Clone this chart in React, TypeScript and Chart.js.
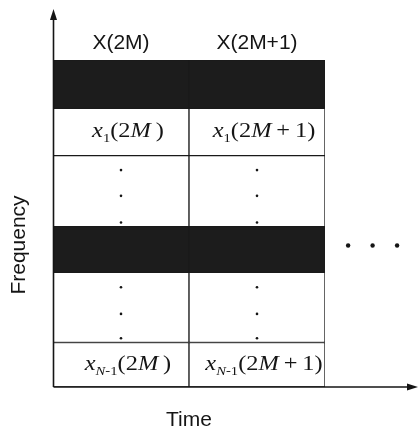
import { useEffect, useRef } from 'react';
import { Chart, registerables } from 'chart.js';

Chart.register(...registerables);

// Time slots (columns), placed at x = 0, 1
const timeSlots = ['X(2M)', 'X(2M+1)'];
const slotPositions = [0, 1];
// Frequency bands, bottom -> top (relative heights)
const bandHeights = [0.95, 1.5, 0.97, 1.52, 1.01, 1.03];
const bandShaded = [false, false, true, false, false, true];
// vertical "..." marks inside the gap rows
const dotLevels = [4.63, 4.08, 3.51, 2.13, 1.56, 1.04];
// horizontal "..." to the right of the grid
const ellipsisX = [1.67, 1.85, 2.03];
const ellipsisY = 3.02;
// cell labels x_k(t)
const labelledBands = [4, 0];
const rowSymbolParts: [string, string][][] = [
  [['x', 'i'], ['1', 'sr']],
  [['x', 'i'], ['N', 'si'], ['-1', 'sr']],
];
const colArgParts: [string, string][][] = [
  [['(2', 'r'], ['M', 'i'], ['\u2009)', 'r']],
  [['(2', 'r'], ['M', 'i'], ['\u2009+\u20091)', 'r']],
];
const yTitle = 'Frequency';
const xTitle = 'Time';

const SANS = '"Liberation Sans", Arial, sans-serif';
const SERIF = '"Liberation Serif", "Times New Roman", serif';
const INK = '#151515';

function drawRich(ctx: CanvasRenderingContext2D, parts: [string, string][], cx: number, cy: number, size: number, stretch: number) {
  const fontFor = (st: string) => {
    const sub = st.startsWith('s');
    const it = st.endsWith('i');
    return `${it ? 'italic ' : ''}${sub ? Math.round(size * 0.62) : size}px ${SERIF}`;
  };
  let total = 0;
  const widths = parts.map(([t, st]) => {
    ctx.font = fontFor(st);
    const w = ctx.measureText(t).width;
    total += w;
    return w;
  });
  ctx.save();
  ctx.translate(cx, cy);
  ctx.scale(stretch, 1);
  ctx.textAlign = 'left';
  ctx.textBaseline = 'alphabetic';
  let x = -total / 2;
  parts.forEach(([t, st], i) => {
    ctx.font = fontFor(st);
    ctx.fillText(t, x, st.startsWith('s') ? size * 0.22 : 0);
    x += widths[i];
  });
  ctx.restore();
}

const extras = {
  id: 'diagramExtras',
  afterDraw(chart: any) {
    const { ctx, chartArea: ca, scales } = chart;
    const xs = scales.x;
    const y = scales.y;
    ctx.save();
    ctx.strokeStyle = INK;
    ctx.fillStyle = INK;
    ctx.lineWidth = 1.6;
    const ax = ca.left + 0.5;
    const ay = ca.bottom;
    const yTip = ca.top - 51;
    const xTip = ca.right + 93;
    // vertical axis with arrow
    ctx.beginPath();
    ctx.moveTo(ax, ay);
    ctx.lineTo(ax, yTip + 8);
    ctx.stroke();
    ctx.beginPath();
    ctx.moveTo(ax, yTip);
    ctx.lineTo(ax - 3.5, yTip + 11);
    ctx.lineTo(ax + 3.5, yTip + 11);
    ctx.closePath();
    ctx.fill();
    // horizontal axis with arrow
    ctx.beginPath();
    ctx.moveTo(ax, ay);
    ctx.lineTo(xTip - 8, ay);
    ctx.stroke();
    ctx.beginPath();
    ctx.moveTo(xTip, ay);
    ctx.lineTo(xTip - 11, ay - 3.5);
    ctx.lineTo(xTip - 11, ay + 3.5);
    ctx.closePath();
    ctx.fill();

    // horizontal ellipsis beyond the grid (positioned through the scales)
    ellipsisX.forEach((v) => {
      ctx.beginPath();
      ctx.arc(xs.getPixelForValue(v), y.getPixelForValue(ellipsisY), 2.2, 0, Math.PI * 2);
      ctx.fill();
    });

    // Frequency title
    ctx.save();
    ctx.translate(ca.left - 34, ca.bottom - 142);
    ctx.rotate(-Math.PI / 2);
    ctx.font = `21px ${SANS}`;
    ctx.textAlign = 'center';
    ctx.textBaseline = 'middle';
    ctx.fillText(yTitle, 0, 0);
    ctx.restore();

    // cell labels
    const starts: number[] = [];
    let acc = 0;
    bandHeights.forEach((h) => { starts.push(acc); acc += h; });
    labelledBands.forEach((b, r) => {
      const cy = y.getPixelForValue(starts[b] + bandHeights[b] / 2) + 5.5;
      slotPositions.forEach((c, ci) => {
        const cx = xs.getPixelForValue(c) + 7;
        drawRich(ctx, [...rowSymbolParts[r], ...colArgParts[ci]], cx, cy, 20, 1.22);
      });
    });
    ctx.restore();
  },
};

export default function App() {
  const ref = useRef<HTMLCanvasElement>(null);
  useEffect(() => {
    const canvas = ref.current;
    if (!canvas) return;
    const total = bandHeights.reduce((a, b) => a + b, 0);
    const barSets = bandHeights.map((h, i) => ({
      type: 'bar' as const,
      label: `band${i}`,
      data: slotPositions.map((p) => ({ x: p, y: h })),
      backgroundColor: bandShaded[i] ? '#1c1c1c' : '#ffffff',
      borderColor: '#1a1a1a',
      borderWidth: 1,
      borderSkipped: false,
      barPercentage: 1,
      categoryPercentage: 1,
      stack: 'grid',
      xAxisID: 'x',
      yAxisID: 'y',
      order: 2,
    }));
    const chart = new Chart(canvas, {
      type: 'bar',
      data: {
        datasets: [
          ...barSets,
          {
            type: 'scatter',
            label: 'vdots',
            data: slotPositions.flatMap((c) => dotLevels.map((v) => ({ x: c, y: v }))),
            pointRadius: 1.3,
            pointBackgroundColor: INK,
            pointBorderWidth: 0,
            xAxisID: 'x',
            yAxisID: 'y',
            stack: 'vdots',
            order: 0,
          } as any,
        ],
      },
      options: {
        responsive: false,
        animation: false,
        events: [],
        layout: { padding: { left: 53, right: 94, top: 26.8, bottom: 0 } },
        plugins: { legend: { display: false }, tooltip: { enabled: false } },
        scales: {
          x: {
            type: 'linear',
            position: 'top',
            min: -0.5,
            max: 1.5,
            offset: false,
            grid: { display: false, drawTicks: false, offset: false },
            border: { display: false },
            afterBuildTicks: (scale: any) => {
              scale.ticks = slotPositions.map((v) => ({ value: v }));
            },
            ticks: {
              padding: 4,
              color: INK,
              font: { family: SANS, size: 21 },
              callback: (v: any) => timeSlots[slotPositions.indexOf(Number(v))] ?? '',
            },
          },
          xb: {
            type: 'linear',
            axis: 'x',
            position: 'bottom',
            min: -0.5,
            max: 1.5,
            offset: false,
            grid: { display: false, drawTicks: false },
            border: { display: false },
            ticks: { display: false },
            title: {
              display: true,
              text: xTitle,
              color: INK,
              font: { family: SANS, size: 21 },
              padding: { top: 20.4, bottom: 6.4 },
            },
          },
          y: {
            type: 'linear',
            display: false,
            stacked: true,
            min: 0,
            max: total,
          },
        },
      } as any,
      plugins: [extras],
    });
    return () => chart.destroy();
  }, []);
  return (
    <div style={{ position: 'fixed', left: 0, top: 0, width: 419, height: 439, background: '#fff' }}>
      <canvas ref={ref} width={419} height={439} style={{ display: 'block' }} />
    </div>
  );
}
